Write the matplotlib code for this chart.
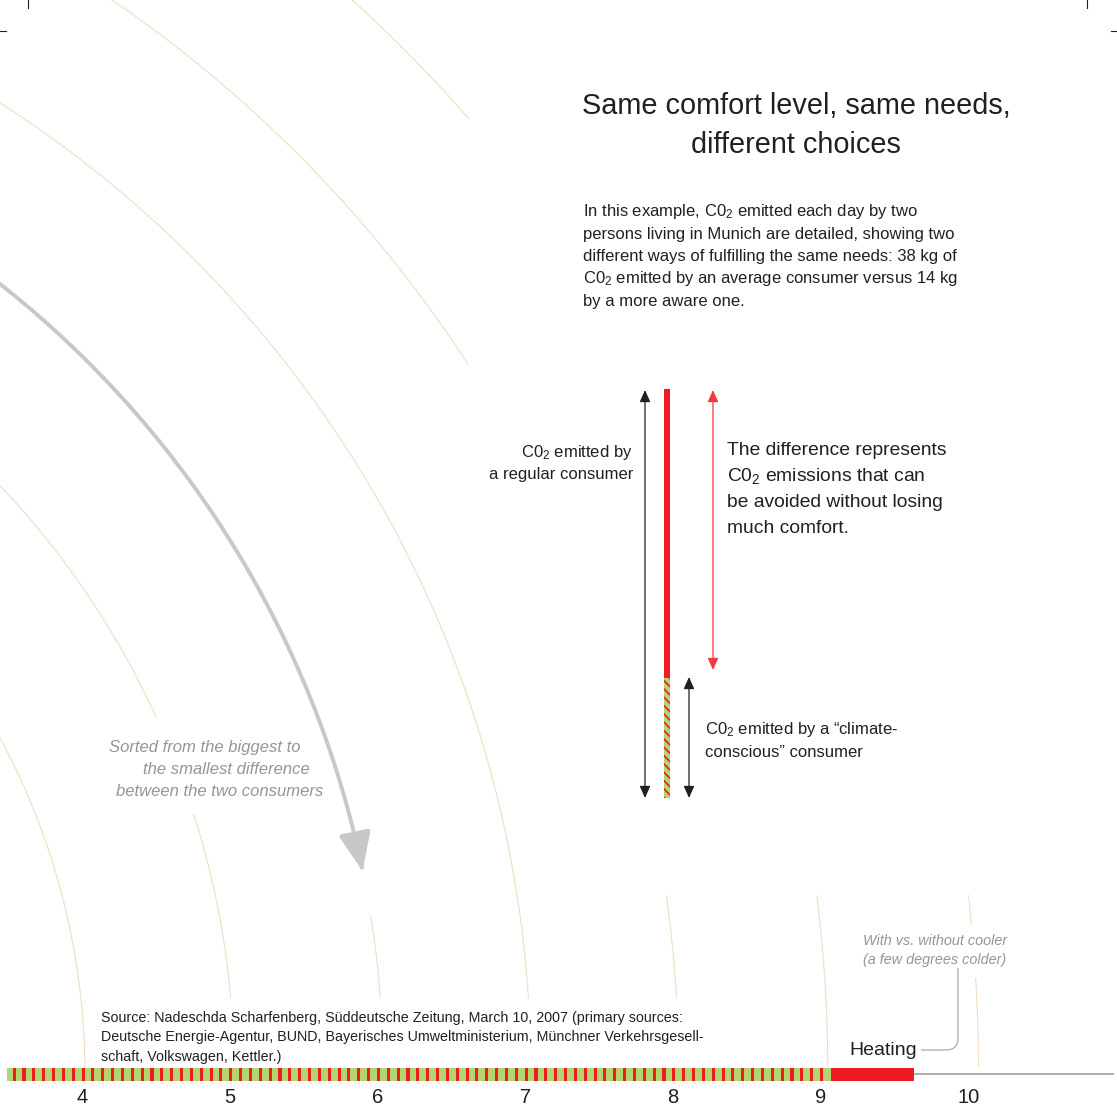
import numpy as np
import matplotlib
matplotlib.use("Agg")
import matplotlib.pyplot as plt
from matplotlib.lines import Line2D
from matplotlib.patches import FancyArrowPatch, Rectangle, PathPatch
from matplotlib.path import Path

plt.rcParams["font.family"] = ["Liberation Sans", "DejaVu Sans"]
plt.rcParams["mathtext.fontset"] = "custom"
plt.rcParams["mathtext.rm"] = "Liberation Sans"
plt.rcParams["mathtext.it"] = "Liberation Sans:italic"
plt.rcParams["hatch.linewidth"] = 1.2

# baseline values, kg of CO2 per day
tick_values = [4, 5, 6, 7, 8, 9, 10]
previous_end = 3.49        # striped run coming in from the left
heating_aware = 9.07       # climate-conscious consumer
heating_regular = 9.63     # regular consumer
axis_end = 10.98

# guide circles of the radial layout (centre sits on the baseline)
ring_centre = -0.77
ring_radii = [4.79, 5.80, 6.81, 7.81, 8.81, 9.82, 10.84]
# visible pieces of every ring, as height ranges above the baseline
ring_parts = [
    [(0.05, 4.79)],
    [(0.51, 1.76), (2.41, 5.80)],
    [(0.51, 1.07)],
    [(0.51, 7.81)],
    [(0.51, 1.21), (4.80, 8.81)],
    [(0.05, 1.21), (6.47, 9.82)],
    [(0.05, 0.65), (1.01, 1.21)],
]
arrow_ring = 2
arrow_tip = 1.374

RED = "#ed1c24"
GREEN = "#b3d46f"
RING = "#f0dec3"
GREY_TXT = "#939598"
INK = "#231f20"

W, H = 1117, 1106
PPU = 147.7                # pixels per kg
X0 = 4 - 82 / PPU
AXIS_PY = 1074


def fx(px):
    return px / W


def fy(py):
    return 1 - py / H


def dxp(px):
    return X0 + px / PPU


def dyp(py):
    return (AXIS_PY - py) / PPU


fig = plt.figure(figsize=(W / 100, H / 100), dpi=100)
ax = fig.add_axes([0, 0, 1, 1])
ax.set_xlim(X0, X0 + W / PPU)
ax.set_ylim(-(H - AXIS_PY) / PPU, AXIS_PY / PPU)
for s in ax.spines.values():
    s.set_visible(False)
ax.set_yticks([])
ax.set_xticks(tick_values)
ax.set_xticklabels([str(v) for v in tick_values])
ax.tick_params(axis="x", length=0, pad=-13, labelsize=14.5, labelcolor=INK)

# rings
for r, parts in zip(ring_radii, ring_parts):
    for lo, hi in parts:
        t = np.linspace(np.arcsin(min(lo / r, 1)), np.arcsin(min(hi / r, 1)), 300)
        ax.plot(ring_centre + r * np.cos(t), r * np.sin(t), color=RING, lw=0.8,
                solid_capstyle="butt", zorder=1)

# grey "sorted" arrow riding on one ring
r = ring_radii[arrow_ring]
t = np.linspace(np.pi / 2, np.arcsin(arrow_tip / r), 400)
arc = Path(np.column_stack([ring_centre + r * np.cos(t), r * np.sin(t)]))
ax.add_patch(FancyArrowPatch(path=arc, arrowstyle="-|>,head_length=24,head_width=10",
                             mutation_scale=1, lw=2.8, color="#c7c8ca",
                             shrinkA=0, shrinkB=0, zorder=2))

# baseline bars
bar_h = 13 / PPU
ax.barh(0, heating_aware - previous_end, left=previous_end, height=bar_h,
        color=GREEN, lw=0, zorder=3)
stripes = np.arange(previous_end + 0.04, heating_aware - 0.02, 1 / 15)
ax.bar(stripes, bar_h, width=0.021, bottom=-bar_h / 2, align="edge",
       color=RED, lw=0, antialiased=False, zorder=4)
ax.barh(0, heating_regular - heating_aware, left=heating_aware, height=bar_h,
        color=RED, lw=0, zorder=4)
ax.plot([heating_regular, axis_end], [0, 0], color="#9d9fa2", lw=1.2, zorder=3)

# key in the middle
ax.add_patch(Rectangle((dxp(664), dyp(678)), 6 / PPU, (678 - 389) / PPU,
                       color=RED, lw=0, zorder=3))
ax.add_patch(Rectangle((dxp(664), dyp(798)), 6 / PPU, (798 - 678) / PPU,
                       facecolor=GREEN, edgecolor=RED, hatch="\\\\\\\\", lw=0, zorder=3))


def key_arrow(px, py0, py1, color):
    ax.annotate("", xy=(dxp(px), dyp(py1)), xytext=(dxp(px), dyp(py0)),
                arrowprops=dict(arrowstyle="<|-|>,head_length=0.45,head_width=0.2",
                                mutation_scale=16, color=color, lw=0.9,
                                shrinkA=0, shrinkB=0))


key_arrow(645, 390, 798, INK)
key_arrow(713, 390, 670, "#ee3a40")
key_arrow(689, 677, 798, INK)

# connector from the "Heating" label to its note
conn = Path([(dxp(921), dyp(1050)), (dxp(946), dyp(1050)), (dxp(958), dyp(1050)),
             (dxp(958), dyp(1038)), (dxp(958), dyp(968))],
            [Path.MOVETO, Path.LINETO, Path.CURVE3, Path.CURVE3, Path.LINETO])
ax.add_patch(PathPatch(conn, fill=False, edgecolor="#a7a9ac", lw=0.9, zorder=3))


def put(px, py, s, size, **kw):
    kw.setdefault("color", INK)
    kw.setdefault("va", "baseline")
    fig.text(fx(px), fy(py), s, fontsize=size, **kw)


# title and intro
put(796, 114, "Same comfort level, same needs,", 20.8, ha="center")
put(796, 153, "different choices", 20.8, ha="center")
intro = [
    "In this example, C$0_2$ emitted each day by two",
    "persons living in Munich are detailed, showing two",
    "different ways of fulfilling the same needs: 38 kg of",
    "C$0_2$ emitted by an average consumer versus 14 kg",
    "by a more aware one.",
]
for i, line in enumerate(intro):
    put(583, 216 + i * 22.5, line, 12)

# key labels
put(633, 457, "C$0_2$ emitted by", 12, ha="right")
put(633, 479, "a regular consumer", 12, ha="right")
diff = ["The difference represents", "C$0_2$ emissions that can",
        "be avoided without losing", "much comfort."]
for i, line in enumerate(diff):
    put(727, 455 + i * 26, line, 13.9)
put(705, 734, "C$0_2$ emitted by a \u201cclimate-", 12)
put(705, 757, "conscious\u201d consumer", 12)

# grey notes
for (px, py), line in zip([(109, 752), (143, 774), (116, 796)],
                          ["Sorted from the biggest to", "the smallest difference",
                           "between the two consumers"]):
    put(px, py, line, 12, color=GREY_TXT, style="italic")
put(863, 945, "With vs. without cooler", 10.4, color=GREY_TXT, style="italic")
put(863, 964, "(a few degrees colder)", 10.4, color=GREY_TXT, style="italic")

put(849, 1055, "Heating", 14)

src = ["Source: Nadeschda Scharfenberg, S\u00fcddeutsche Zeitung, March 10, 2007 (primary sources:",
       "Deutsche Energie-Agentur, BUND, Bayerisches Umweltministerium, M\u00fcnchner Verkehrsgesell-",
       "schaft, Volkswagen, Kettler.)"]
for i, line in enumerate(src):
    put(101, 1022 + i * 19.5, line, 10.3)

# crop marks
for xs, ys in [((28, 28), (0, 8)), ((0, 6), (31, 31)),
               ((1087, 1087), (0, 8)), ((1111, 1117), (31, 31))]:
    fig.add_artist(Line2D([fx(x) for x in xs], [fy(y) for y in ys],
                          transform=fig.transFigure, color=INK, lw=0.8))

fig.savefig("out.png", dpi=100)
